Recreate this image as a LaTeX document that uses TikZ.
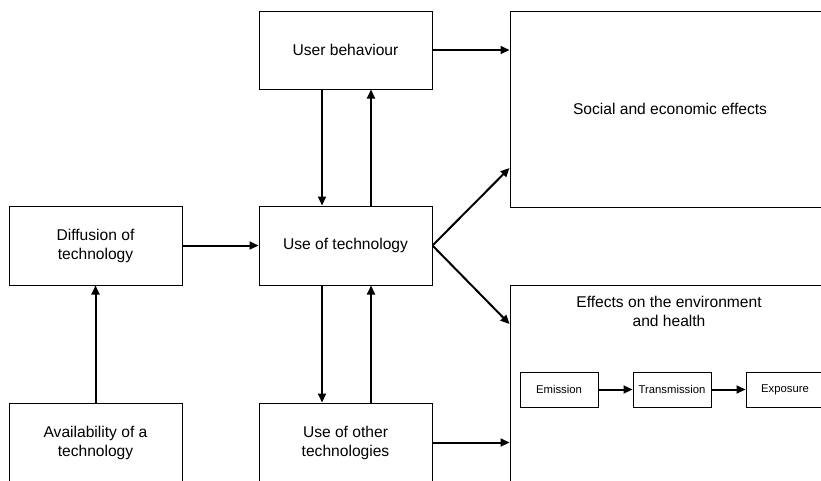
\documentclass[tikz,border=0pt]{standalone}
\usepackage{fontspec}
\setmainfont{Liberation Sans}
\usetikzlibrary{arrows.meta}
\begin{document}
\begin{tikzpicture}[x=1pt,y=-1pt,
  box/.style={draw, line width=1pt, rectangle, align=center, inner sep=0pt,
    font=\fontsize{15.6}{19}\selectfont},
  bigbox/.style={draw, line width=1pt, rectangle, minimum width=320pt, minimum height=196pt, inner sep=0pt},
  stepbox/.style={draw, line width=1pt, rectangle, minimum width=78pt, minimum height=35pt, inner sep=0pt,
    font=\fontsize{11.3}{13}\selectfont},
  arr/.style={line width=2pt, -{Triangle[length=9pt,width=8pt]}}]
  \clip (0,0) rectangle (821,480);
  % left column
  \node[box, minimum width=173pt, minimum height=79pt] (diff) at (95.5,245.5) {Diffusion of\\technology};
  \node[box, minimum width=173pt, minimum height=79pt] (avail) at (95.5,442.5) {Availability of a\\technology};
  % middle column
  \node[box, minimum width=173pt, minimum height=78pt] (user) at (345.5,50) {User behaviour};
  \node[box, minimum width=173pt, minimum height=79pt] (use) at (345.5,245.5) {Use of technology};
  \node[box, minimum width=173pt, minimum height=79pt] (other) at (345.5,442.5) {Use of other\\technologies};
  % effects
  \node[bigbox, font=\fontsize{15.6}{19}\selectfont] (social) at (670,109) {Social and economic effects};
  \node[bigbox] (env) at (670,383) {};
  \node[align=center, font=\fontsize{15.6}{19}\selectfont] (envtitle) at (669,311) {Effects on the environment\\and health};
  \node[stepbox] (emis) at (559,389.5) {Emission};
  \node[stepbox] (trans) at (672,389.5) {Transmission};
  \node[stepbox] (expo) at (785,389.5) {Exposure};
  % connectors
  \draw[arr] (avail.north) -- (diff.south);
  \draw[arr] (diff.east) -- (use.west);
  \draw[arr] ([xshift=-23.5pt]user.south) -- ([xshift=-23.5pt]use.north);
  \draw[arr] ([xshift=25.5pt]use.north) -- ([xshift=25.5pt]user.south);
  \draw[arr] ([xshift=-23.5pt]use.south) -- ([xshift=-23.5pt]other.north);
  \draw[arr] ([xshift=25.5pt]other.north) -- ([xshift=25.5pt]use.south);
  \draw[arr] (user.east) -- (user.east -| social.west);
  \draw[arr] (use.east) -- ([yshift=-59pt]social.west);
  \draw[arr] (use.east) -- ([yshift=59pt]env.west);
  \draw[arr] (other.east) -- (other.east -| env.west);
  \draw[arr] (emis.east) -- (trans.west);
  \draw[arr] (trans.east) -- (expo.west);
\end{tikzpicture}
\end{document}
